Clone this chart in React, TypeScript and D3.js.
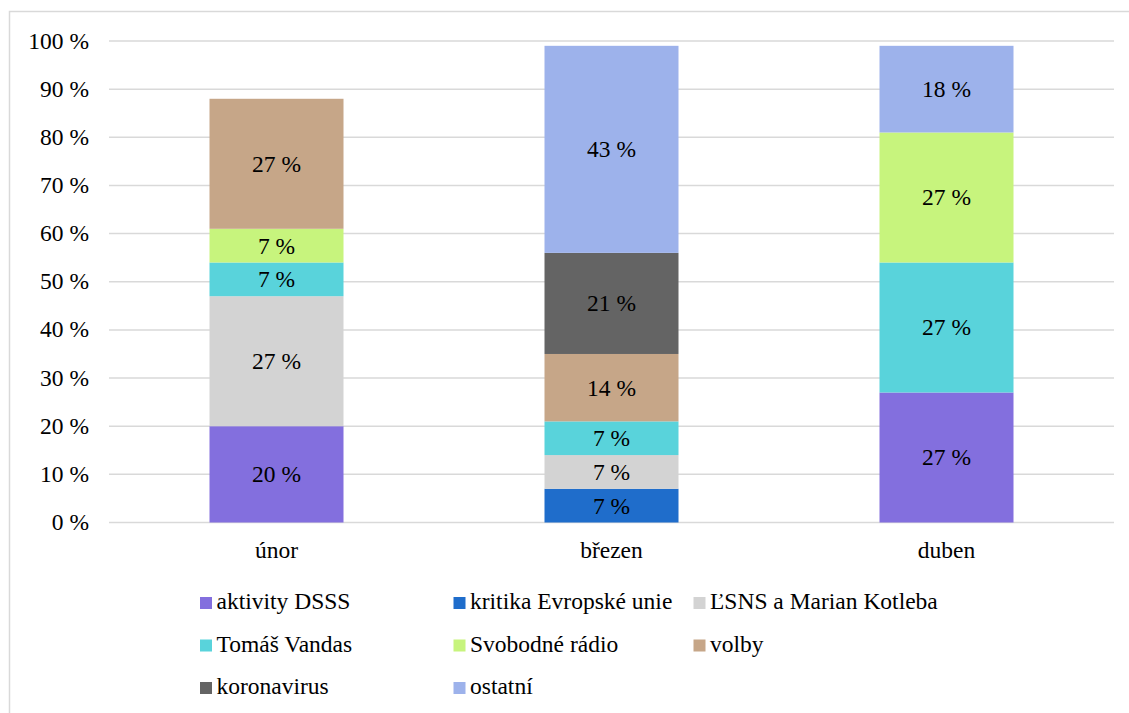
import React, { useRef, useEffect } from "react";
import * as d3 from "d3";

const months = ["únor", "březen", "duben"];

const seriesNames = [
  "aktivity DSSS",
  "kritika Evropské unie",
  "ĽSNS a Marian Kotleba",
  "Tomáš Vandas",
  "Svobodné rádio",
  "volby",
  "koronavirus",
  "ostatní",
];

// values in %, per month (únor, březen, duben); 0 = no segment
const aktivityDSSS = [20, 0, 27];
const kritikaEU = [0, 7, 0];
const lsns = [27, 7, 0];
const vandas = [7, 7, 27];
const svobodneRadio = [7, 0, 27];
const volby = [27, 14, 0];
const koronavirus = [0, 21, 0];
const ostatni = [0, 43, 18];

const seriesValues = [aktivityDSSS, kritikaEU, lsns, vandas, svobodneRadio, volby, koronavirus, ostatni];

const colors = ["#836FDE", "#1F6DCB", "#D3D3D3", "#59D3DB", "#C7F47D", "#C6A688", "#646464", "#9DB2EB"];

const yTicks = [0, 10, 20, 30, 40, 50, 60, 70, 80, 90, 100];

const FONT = "Liberation Serif, Times New Roman, DejaVu Serif, serif";

const StackedChart: React.FC = () => {
  const ref = useRef<SVGSVGElement | null>(null);

  useEffect(() => {
    if (!ref.current) return;
    const svg = d3.select(ref.current);
    svg.selectAll("*").remove();

    const width = 1129;
    const height = 713;
    const margin = { top: 41, right: 15, bottom: 190.5, left: 109 };

    // outer border (cropped on the right and bottom)
    svg
      .append("rect")
      .attr("x", 9.5)
      .attr("y", 11.5)
      .attr("width", width + 20)
      .attr("height", height + 20)
      .attr("fill", "white")
      .attr("stroke", "#D9D9D9")
      .attr("stroke-width", 1.5);

    const x = d3
      .scaleBand<string>()
      .domain(months)
      .range([margin.left, width - margin.right]);

    const y = d3
      .scaleLinear()
      .domain([0, 100])
      .range([height - margin.bottom, margin.top]);

    // gridlines
    svg
      .append("g")
      .selectAll("line")
      .data(yTicks)
      .join("line")
      .attr("x1", margin.left)
      .attr("x2", width - margin.right)
      .attr("y1", (d) => y(d))
      .attr("y2", (d) => y(d))
      .attr("stroke", "#D9D9D9")
      .attr("stroke-width", 1.5);

    // y labels
    svg
      .append("g")
      .selectAll("text")
      .data(yTicks)
      .join("text")
      .attr("x", 89)
      .attr("y", (d) => y(d) + 7.5)
      .attr("text-anchor", "end")
      .style("font-family", FONT)
      .style("font-size", "23.5px")
      .attr("fill", "#000")
      .text((d) => `${d} %`);

    // x labels
    svg
      .append("g")
      .selectAll("text")
      .data(months)
      .join("text")
      .attr("x", (d) => (x(d) || 0) + x.bandwidth() / 2)
      .attr("y", 558)
      .attr("text-anchor", "middle")
      .style("font-family", FONT)
      .style("font-size", "23.5px")
      .attr("fill", "#000")
      .text((d) => d);

    const table = months.map((m, i) => {
      const row: Record<string, number | string> = { month: m };
      seriesNames.forEach((s, j) => (row[s] = seriesValues[j][i]));
      return row;
    });

    const stack = d3.stack<Record<string, number | string>>().keys(seriesNames);
    const layers = stack(table as any);

    const barW = x.bandwidth() * 0.4;

    layers.forEach((layer, li) => {
      const g = svg.append("g");
      layer.forEach((seg, mi) => {
        const v = seriesValues[li][mi];
        if (!v) return;
        const bx = (x(months[mi]) || 0) + (x.bandwidth() - barW) / 2;
        g.append("rect")
          .attr("x", bx)
          .attr("y", y(seg[1]))
          .attr("width", barW)
          .attr("height", y(seg[0]) - y(seg[1]))
          .attr("fill", colors[li]);
        g.append("text")
          .attr("x", bx + barW / 2)
          .attr("y", y((seg[0] + seg[1]) / 2) + 8)
          .attr("text-anchor", "middle")
          .style("font-family", FONT)
          .style("font-size", "23.5px")
          .attr("fill", "#000")
          .text(`${v} %`);
      });
    });

    // legend
    const legendCols = [200, 453.5, 693.5];
    const legendRows = [597, 639.5, 682];
    const legend = svg.append("g");
    seriesNames.forEach((s, i) => {
      const lx = legendCols[i % 3];
      const ly = legendRows[Math.floor(i / 3)];
      legend
        .append("rect")
        .attr("x", lx)
        .attr("y", ly)
        .attr("width", 12)
        .attr("height", 12)
        .attr("fill", colors[i]);
      legend
        .append("text")
        .attr("x", lx + 16.5)
        .attr("y", ly + 12)
        .style("font-family", FONT)
        .style("font-size", "23.5px")
        .attr("fill", "#000")
        .text(s);
    });
  }, []);

  return <svg ref={ref} width={1129} height={713} style={{ display: "block" }} />;
};

export default function App() {
  return (
    <div style={{ position: "absolute", left: 0, top: 0 }}>
      <StackedChart />
    </div>
  );
}
